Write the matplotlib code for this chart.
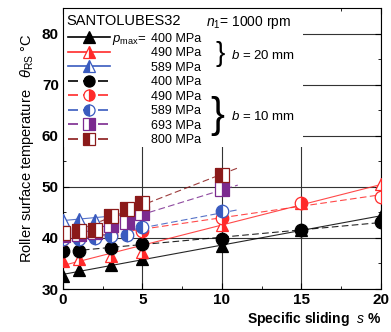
import numpy as np
import matplotlib.pyplot as plt
from matplotlib.lines import Line2D
from matplotlib.patches import Rectangle

plt.rcParams['font.family'] = ['Liberation Sans', 'DejaVu Sans']
plt.rcParams['mathtext.fontset'] = 'custom'
plt.rcParams['mathtext.rm'] = 'Liberation Sans'
plt.rcParams['mathtext.it'] = 'Liberation Sans:italic'

# specific sliding s % and roller surface temperature (deg C)
s_400_b20 = [0, 1, 3, 5, 10, 15, 20]
t_400_b20 = [32.5, 33.7, 34.7, 35.8, 38.5, 41.5, 44.3]
s_490_b20 = [0, 1, 3, 5, 10, 15, 20]
t_490_b20 = [35.5, 35.8, 36.5, 37.3, 42.5, 46.9, 50.5]
s_589_b20 = [0, 1, 2, 3]
t_589_b20 = [43.5, 43.7, 43.6, 44.5]
s_400_b10 = [0, 1, 3, 5, 10, 15, 20]
t_400_b10 = [37.5, 37.5, 38.1, 38.8, 39.7, 41.6, 43.2]
s_490_b10 = [0, 1, 3, 5, 10, 15, 20]
t_490_b10 = [39.8, 40.0, 40.5, 41.3, 43.9, 46.9, 48.1]
s_589_b10 = [0, 1, 2, 3, 4, 5, 10]
t_589_b10 = [39.8, 39.8, 40.0, 40.3, 40.6, 42.2, 45.3]
s_693_b10 = [0, 1, 2, 3, 4, 5, 10]
t_693_b10 = [40.5, 40.8, 41.2, 42.5, 43.1, 44.9, 49.6]
s_800_b10 = [0, 1, 2, 3, 4, 5, 10]
t_800_b10 = [41.0, 41.3, 41.6, 44.2, 45.6, 46.9, 52.3]

labels = ['400 MPa', '490 MPa', '589 MPa', '400 MPa',
          '490 MPa', '589 MPa', '693 MPa', '800 MPa']

black = '#000000'
red = '#ff2a2a'
blue = '#3a5bbf'
purple = '#7b2a8f'
dred = '#8b1a1a'

series = [
    (s_400_b20, t_400_b20, black, '^', 'full', '-', 20),
    (s_490_b20, t_490_b20, red, '^', 'right', '-', 20),
    (s_589_b20, t_589_b20, blue, '^', 'left', '-', 4),
    (s_400_b10, t_400_b10, black, 'o', 'full', (0, (6, 3)), 20),
    (s_490_b10, t_490_b10, red, 'o', 'right', (0, (6, 3)), 20),
    (s_589_b10, t_589_b10, blue, 'o', 'left', (0, (6, 3)), 11),
    (s_693_b10, t_693_b10, purple, 's', 'right', (0, (6, 3)), 11),
    (s_800_b10, t_800_b10, dred, 's', 'left', (0, (6, 3)), 11),
]

fig = plt.figure(figsize=(3.91, 3.32), dpi=100)
ax = fig.add_axes([0.161, 0.1295, 0.813, 0.8465])

handles = []
for i, (x, y, c, m, fs, ls, xend) in enumerate(series):
    # linear trend line through the data
    k, b = np.polyfit(x, y, 1)
    xl = np.array([0, xend])
    ax.plot(xl, k * xl + b, color=c, lw=0.8, ls=ls, zorder=3, alpha=0.85)
    ms = 9.5 if m == 's' else 9
    ax.plot(x, y, ls='none', marker=m, ms=ms, color=c, mec=c, mew=0.9,
            mfc=c, fillstyle=fs, markerfacecoloralt='white', zorder=4 + i * 0.1)
    handles.append(Line2D([], [], color=c, ls=ls, lw=1.2, marker=m, ms=8,
                          mec=c, mew=0.9, mfc=c, fillstyle=fs,
                          markerfacecoloralt='white'))

ax.set_xlim(0, 20)
ax.set_ylim(30, 85)
ax.set_xticks([0, 5, 10, 15, 20])
ax.set_yticks([30, 40, 50, 60, 70, 80])
ax.set_xticks(np.arange(2.5, 20, 5), minor=True)
ax.set_yticks(np.arange(35, 85, 10), minor=True)
ax.tick_params(which='both', direction='in', top=True, right=True)
ax.tick_params(which='major', length=4, labelsize=11, pad=3)
ax.tick_params(which='minor', length=2.5)
for lab in ax.get_xticklabels() + ax.get_yticklabels():
    lab.set_fontweight('bold')
ax.grid(True, which='major', color='#333333', lw=0.8, zorder=0)
ax.set_axisbelow(True)
for sp in ax.spines.values():
    sp.set_linewidth(0.8)

# white area behind the legend block
ax.add_patch(Rectangle((0, 0.505), 0.755, 0.495, transform=ax.transAxes,
                       facecolor='white', edgecolor='none', zorder=2))

leg = ax.legend(handles, labels, loc='upper left', bbox_to_anchor=(0.015, 0.912),
                frameon=False, fontsize=9, handlelength=3.4, handletextpad=3.3,
                labelspacing=0.2, borderaxespad=0, borderpad=0)
leg.set_zorder(6)

ax.text(0.012, 0.978, 'SANTOLUBES32', transform=ax.transAxes, fontsize=10.5,
        va='top', ha='left', zorder=7)
ax.text(0.45, 0.978, '$n_1$= 1000 rpm', transform=ax.transAxes, fontsize=10,
        va='top', ha='left', zorder=7)
ax.text(0.155, 0.885, '$p_{\\mathrm{max}}$=', transform=ax.transAxes, fontsize=9.5,
        va='center', ha='left', zorder=7)
ax.text(0.48, 0.835, '}', transform=ax.transAxes, fontsize=20,
        va='center', ha='left', zorder=7)
ax.text(0.53, 0.832, '$b$ = 20 mm', transform=ax.transAxes, fontsize=9.5,
        va='center', ha='left', zorder=7)
ax.text(0.462, 0.615, '}', transform=ax.transAxes, fontsize=30,
        va='center', ha='left', zorder=7)
ax.text(0.53, 0.615, '$b$ = 10 mm', transform=ax.transAxes, fontsize=9.5,
        va='center', ha='left', zorder=7)

ax.set_xlabel('Specific sliding  $s$ %', fontsize=10, fontweight='bold',
              loc='right', labelpad=2)
ax.set_ylabel('Roller surface temperature   $\\theta_{\\mathrm{RS}}$ °C',
              fontsize=10.5, labelpad=4)

fig.savefig('out.png', dpi=100)
